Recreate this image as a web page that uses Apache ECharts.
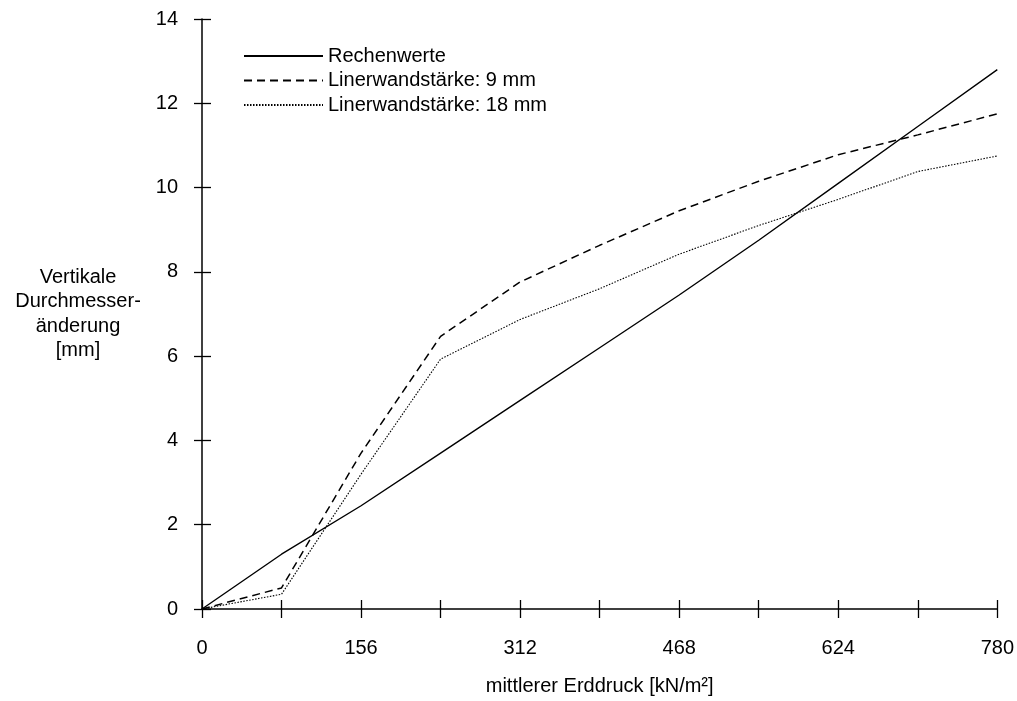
<!DOCTYPE html>
<html>
<head>
<meta charset="utf-8">
<script src="https://cdn.jsdelivr.net/npm/echarts@6/dist/echarts.min.js"></script>
<style>
html,body{margin:0;padding:0;background:#fff;}
#chart{width:1017px;height:701px;}
</style>
</head>
<body>
<div id="chart"></div>
<script>
const xValues = [0, 78, 156, 234, 312, 390, 468, 546, 624, 702, 780];
const rechenwerte = [0, 1.3, 2.45, 3.7, 4.95, 6.2, 7.45, 8.75, 10.1, 11.45, 12.8];
const liner9 = [0, 0.5, 3.7, 6.47, 7.76, 8.63, 9.45, 10.15, 10.78, 11.25, 11.75];
const liner18 = [0, 0.35, 3.2, 5.93, 6.87, 7.6, 8.42, 9.1, 9.72, 10.38, 10.75];
const seriesNames = ['Rechenwerte', 'Linerwandstärke: 9 mm', 'Linerwandstärke: 18 mm'];
const xLabelStep = 156;
const xAxisName = 'mittlerer Erddruck [kN/m²]';
const yAxisName = 'Vertikale\nDurchmesser-\nänderung\n[mm]';

const font = '"Liberation Sans", Arial, sans-serif';
const pairs = arr => xValues.map((x, i) => [x, arr[i]]);

const chart = echarts.init(document.getElementById('chart'), null, {renderer: 'canvas'});
const baseX = {type: 'value', min: 0, max: 780, interval: 78, gridIndex: 0};
const baseY = {type: 'value', min: 0, max: 14, interval: 2, gridIndex: 0};
chart.setOption({
  animation: false,
  backgroundColor: '#fff',
  textStyle: {fontFamily: font},
  grid: {left: 202, right: 17, top: 19, bottom: 85, containLabel: false},
  legend: {
    orient: 'vertical', left: 238, top: 41,
    itemWidth: 79, itemHeight: 14, itemGap: 4.5,
    data: seriesNames,
    itemStyle: {opacity: 0},
    textStyle: {fontFamily: font, fontSize: 20, color: '#000'}
  },
  xAxis: [
    Object.assign({}, baseX, {
      position: 'bottom',
      name: xAxisName, nameLocation: 'middle', nameGap: 67,
      nameTextStyle: {fontFamily: font, fontSize: 20, color: '#000'},
      axisLine: {show: true, onZero: false, lineStyle: {color: '#000', width: 1.5}},
      axisTick: {show: true, inside: false, length: 9, lineStyle: {color: '#000', width: 1.3}},
      axisLabel: {
        show: true, margin: 29, fontFamily: font, fontSize: 20, color: '#000',
        formatter: v => (v % xLabelStep === 0 ? String(v) : '')
      },
      splitLine: {show: false}
    }),
    Object.assign({}, baseX, {
      position: 'bottom',
      axisLine: {show: false, onZero: false},
      axisTick: {show: true, inside: true, length: 9, lineStyle: {color: '#000', width: 1.3}},
      axisLabel: {show: false},
      splitLine: {show: false}
    })
  ],
  yAxis: [
    Object.assign({}, baseY, {
      position: 'left',
      name: yAxisName, nameLocation: 'middle', nameGap: 124, nameRotate: 0,
      nameTextStyle: {fontFamily: font, fontSize: 20, color: '#000', align: 'center', verticalAlign: 'middle', lineHeight: 24.5, padding: [0, 0, 6, 0]},
      axisLine: {show: true, onZero: false, lineStyle: {color: '#000', width: 1.5}},
      axisTick: {show: true, inside: false, length: 8, lineStyle: {color: '#000', width: 1.3}},
      axisLabel: {show: true, margin: 24, fontFamily: font, fontSize: 20, color: '#000'},
      splitLine: {show: false}
    }),
    Object.assign({}, baseY, {
      position: 'left',
      axisLine: {show: false, onZero: false},
      axisTick: {show: true, inside: true, length: 9, lineStyle: {color: '#000', width: 1.3}},
      axisLabel: {show: false},
      splitLine: {show: false}
    })
  ],
  series: [
    {
      name: seriesNames[0], type: 'line', xAxisIndex: 0, yAxisIndex: 0,
      data: pairs(rechenwerte), symbol: 'none', showSymbol: false,
      lineStyle: {color: '#000', width: 1.4, type: 'solid'},
      itemStyle: {color: '#000'}
    },
    {
      name: seriesNames[1], type: 'line', xAxisIndex: 0, yAxisIndex: 0,
      data: pairs(liner9), symbol: 'none', showSymbol: false,
      lineStyle: {color: '#000', width: 1.5, type: [8, 5]},
      itemStyle: {color: '#000'}
    },
    {
      name: seriesNames[2], type: 'line', xAxisIndex: 0, yAxisIndex: 0,
      data: pairs(liner18), symbol: 'none', showSymbol: false,
      lineStyle: {color: '#000', width: 1.1, type: [1.5, 1.5]},
      itemStyle: {color: '#000'}
    }
  ]
});
</script>
</body>
</html>
